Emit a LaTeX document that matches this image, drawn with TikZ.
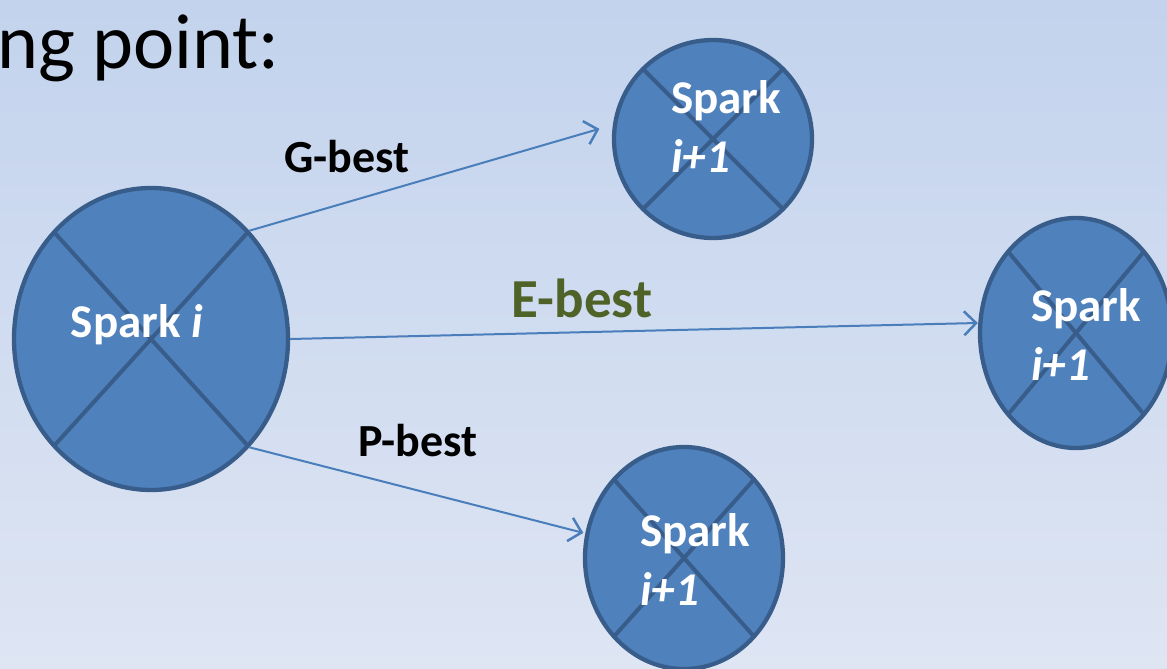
\documentclass[tikz,border=0pt]{standalone}
\usepackage{fontspec}
\setmainfont{Carlito}
\usetikzlibrary{positioning}
\usetikzlibrary{shapes}
\usetikzlibrary{arrows.meta}
\definecolor{bgtop}{RGB}{195,211,237}
\definecolor{bgbottom}{RGB}{222,229,243}
\definecolor{sparkfill}{RGB}{79,129,189}
\definecolor{sparkedge}{RGB}{56,93,138}
\definecolor{linkblue}{RGB}{74,126,187}
\definecolor{ebestgreen}{RGB}{79,98,40}

\tikzset{
  spark/.style={ellipse, draw=sparkedge, fill=sparkfill, line width=4.3pt, inner sep=0pt,
    path picture={\draw[sparkedge, line width=4pt]
      (path picture bounding box.north west) -- (path picture bounding box.south east)
      (path picture bounding box.north east) -- (path picture bounding box.south west);}},
  sparklabel/.style={text=white, font=\bfseries\fontsize{47}{59}\selectfont, align=left, inner sep=0pt},
  link/.style={draw=linkblue, line width=2pt, -{Straight Barb[length=12pt,width=24pt,line width=2.5pt]}},
  bestlabel/.style={font=\bfseries\fontsize{46}{55}\selectfont, inner sep=0pt}
}

\begin{document}
\begin{tikzpicture}[x=1pt,y=-1pt]
\useasboundingbox (0,0) rectangle (1167,669);
\clip (0,0) rectangle (1167,669);
%Background
\shade[top color=bgtop, bottom color=bgbottom] (0,0) rectangle (1167,669);

% Title Text
\node[anchor=base west, inner sep=0pt, font=\fontsize{78}{94}\selectfont] (title) at (-3,68) {ng point:};

%Shape: Sparks
\node[spark, minimum width=274pt, minimum height=302pt] (si) at (151,339) {};
\node[spark, minimum width=198pt, minimum height=198pt] (sg) at (713,139) {};
\node[spark, minimum width=192pt, minimum height=230pt] (se) at (1076,333) {};
\node[spark, minimum width=198pt, minimum height=222pt] (sp) at (684,558) {};

% Spark Text
\node[sparklabel, anchor=base] (ti) at (137,337) {Spark \textit{i}};
\node[sparklabel, anchor=west] (tg) at (671,127) {Spark\\\textit{i+1}};
\node[sparklabel, anchor=west] (te) at (1031,335) {Spark\\\textit{i+1}};
\node[sparklabel, anchor=west] (tp) at (640,560) {Spark\\\textit{i+1}};

%Arrows
\draw[link, shorten >=14pt] (si.north east) -- (sg.172);
\draw[link] (si.east) -- ([yshift=10pt]se.west);
\draw[link, shorten >=2pt] (si.south east) -- (sp.166);

% Text Node
\node[bestlabel] (gbest) at (347,157) {G-best};
\node[bestlabel, text=ebestgreen, font=\bfseries\fontsize{55}{66}\selectfont] (ebest) at (582,298) {E-best};
\node[bestlabel] (pbest) at (418,441) {P-best};
\end{tikzpicture}
\end{document}
